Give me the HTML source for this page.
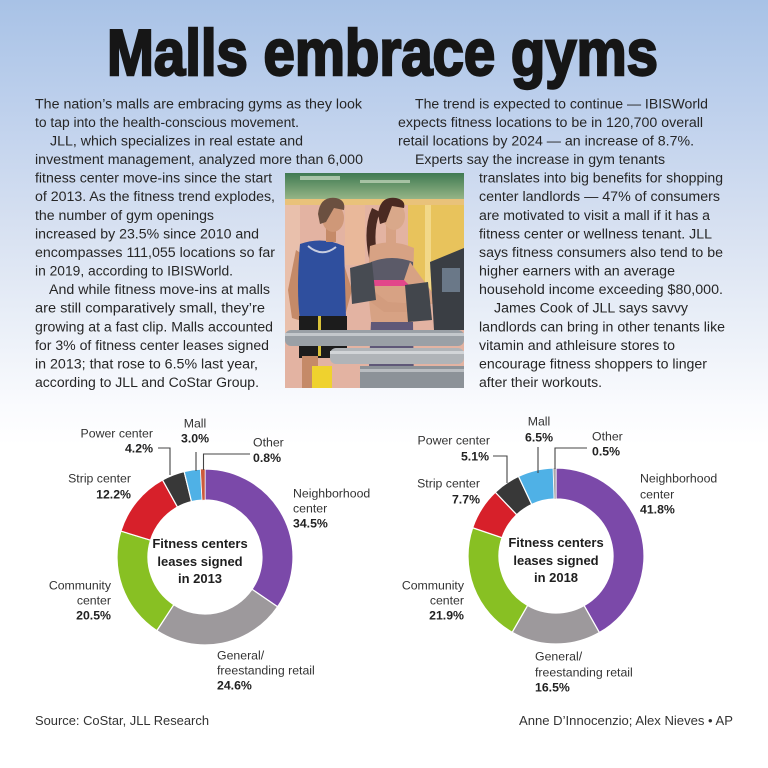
<!DOCTYPE html>
<html><head><meta charset="utf-8"><style>
html,body{margin:0;padding:0;background:#fff;}
svg{display:block;}
text{font-family:"Liberation Sans",Arial,sans-serif;}
.b{font-size:14.2px;fill:#262626;}
.l{font-size:12.3px;fill:#333;}
.p{font-size:12.3px;fill:#222;font-weight:bold;}
.c{font-size:13px;fill:#1e1e1e;font-weight:bold;}
.f{font-size:13px;fill:#333;}
</style></head><body>
<svg width="768" height="768" viewBox="0 0 768 768" xmlns="http://www.w3.org/2000/svg">
<defs>
<linearGradient id="bg" x1="0" y1="0" x2="0" y2="1">
<stop offset="0" stop-color="#a8c2e6"/>
<stop offset="0.13" stop-color="#bccfec"/>
<stop offset="0.29" stop-color="#d6e0f1"/>
<stop offset="0.43" stop-color="#ebf0f8"/>
<stop offset="0.53" stop-color="#fafbfe"/>
<stop offset="0.58" stop-color="#ffffff"/>
</linearGradient>
<linearGradient id="ceil" x1="0" y1="0" x2="0" y2="1">
<stop offset="0" stop-color="#3f7a52"/>
<stop offset="1" stop-color="#9cb98a"/>
</linearGradient>
<clipPath id="ph"><rect x="285" y="173" width="179" height="215"/></clipPath>
</defs>
<rect x="0" y="0" width="768" height="768" fill="url(#bg)"/>

<!-- Title -->
<text x="107" y="75" font-size="65" font-weight="bold" fill="#161616" stroke="#161616" stroke-width="2.4" textLength="551" lengthAdjust="spacingAndGlyphs">Malls embrace gyms</text>

<!-- Left column -->
<text class="b" x="35" y="108.3" textLength="327" lengthAdjust="spacingAndGlyphs">The nation’s malls are embracing gyms as they look</text>
<text class="b" x="35" y="126.9" textLength="264" lengthAdjust="spacingAndGlyphs">to tap into the health-conscious movement.</text>
<text class="b" x="50" y="145.5" textLength="253" lengthAdjust="spacingAndGlyphs">JLL, which specializes in real estate and</text>
<text class="b" x="35" y="164.0" textLength="328" lengthAdjust="spacingAndGlyphs">investment management, analyzed more than 6,000</text>
<text class="b" x="35" y="182.6" textLength="237" lengthAdjust="spacingAndGlyphs">fitness center move-ins since the start</text>
<text class="b" x="35" y="201.2" textLength="240" lengthAdjust="spacingAndGlyphs">of 2013. As the fitness trend explodes,</text>
<text class="b" x="35" y="219.8" textLength="179" lengthAdjust="spacingAndGlyphs">the number of gym openings</text>
<text class="b" x="35" y="238.4" textLength="224" lengthAdjust="spacingAndGlyphs">increased by 23.5% since 2010 and</text>
<text class="b" x="35" y="256.9" textLength="240" lengthAdjust="spacingAndGlyphs">encompasses 111,055 locations so far</text>
<text class="b" x="35" y="275.5" textLength="198" lengthAdjust="spacingAndGlyphs">in 2019, according to IBISWorld.</text>
<text class="b" x="49" y="294.1" textLength="221" lengthAdjust="spacingAndGlyphs">And while fitness move-ins at malls</text>
<text class="b" x="35" y="312.7" textLength="230" lengthAdjust="spacingAndGlyphs">are still comparatively small, they’re</text>
<text class="b" x="35" y="331.3" textLength="238" lengthAdjust="spacingAndGlyphs">growing at a fast clip. Malls accounted</text>
<text class="b" x="35" y="349.8" textLength="234" lengthAdjust="spacingAndGlyphs">for 3% of fitness center leases signed</text>
<text class="b" x="35" y="368.4" textLength="223" lengthAdjust="spacingAndGlyphs">in 2013; that rose to 6.5% last year,</text>
<text class="b" x="35" y="387.0" textLength="224" lengthAdjust="spacingAndGlyphs">according to JLL and CoStar Group.</text>

<!-- Right column -->
<text class="b" x="415" y="108.3" textLength="293" lengthAdjust="spacingAndGlyphs">The trend is expected to continue — IBISWorld</text>
<text class="b" x="398" y="126.9" textLength="305" lengthAdjust="spacingAndGlyphs">expects fitness locations to be in 120,700 overall</text>
<text class="b" x="398" y="145.5" textLength="296" lengthAdjust="spacingAndGlyphs">retail locations by 2024 — an increase of 8.7%.</text>
<text class="b" x="415" y="164.0" textLength="250" lengthAdjust="spacingAndGlyphs">Experts say the increase in gym tenants</text>
<text class="b" x="479" y="182.6" textLength="244" lengthAdjust="spacingAndGlyphs">translates into big benefits for shopping</text>
<text class="b" x="479" y="201.2" textLength="241" lengthAdjust="spacingAndGlyphs">center landlords — 47% of consumers</text>
<text class="b" x="479" y="219.8" textLength="231" lengthAdjust="spacingAndGlyphs">are motivated to visit a mall if it has a</text>
<text class="b" x="479" y="238.4" textLength="233" lengthAdjust="spacingAndGlyphs">fitness center or wellness tenant. JLL</text>
<text class="b" x="479" y="256.9" textLength="244" lengthAdjust="spacingAndGlyphs">says fitness consumers also tend to be</text>
<text class="b" x="479" y="275.5" textLength="196" lengthAdjust="spacingAndGlyphs">higher earners with an average</text>
<text class="b" x="479" y="294.1" textLength="244" lengthAdjust="spacingAndGlyphs">household income exceeding $80,000.</text>
<text class="b" x="494" y="312.7" textLength="194" lengthAdjust="spacingAndGlyphs">James Cook of JLL says savvy</text>
<text class="b" x="479" y="331.3" textLength="246" lengthAdjust="spacingAndGlyphs">landlords can bring in other tenants like</text>
<text class="b" x="479" y="349.8" textLength="196" lengthAdjust="spacingAndGlyphs">vitamin and athleisure stores to</text>
<text class="b" x="479" y="368.4" textLength="228" lengthAdjust="spacingAndGlyphs">encourage fitness shoppers to linger</text>
<text class="b" x="479" y="387.0" textLength="123" lengthAdjust="spacingAndGlyphs">after their workouts.</text>

<!-- Photo -->
<g clip-path="url(#ph)">
<rect x="285" y="173" width="179" height="215" fill="#e3b3a2"/>
<rect x="285" y="173" width="179" height="28" fill="url(#ceil)"/>
<rect x="300" y="176" width="40" height="4" fill="#cfe0c8" opacity="0.7"/>
<rect x="360" y="180" width="50" height="3" fill="#d8e6cf" opacity="0.6"/>
<rect x="285" y="199" width="179" height="6" fill="#e9c27a"/>
<rect x="408" y="205" width="56" height="90" fill="#e8c35c"/>
<rect x="425" y="205" width="6" height="90" fill="#f2d888"/>
<rect x="345" y="205" width="20" height="60" fill="#e9b89a"/>
<rect x="285" y="205" width="15" height="130" fill="#e9c0ac"/>
<!-- man -->
<path d="M296,250 L288,290 L292,318 L305,322 L304,292 L308,258 Z" fill="#c58a68"/>
<path d="M340,252 L352,290 L346,312 L336,312 L342,290 L334,262 Z" fill="#c58a68"/>
<path d="M300,244 Q322,236 344,246 L346,318 L300,320 Q296,290 300,244 Z" fill="#2f4f9e"/>
<path d="M308,246 Q322,258 336,247" stroke="#c8cde0" stroke-width="2" fill="none"/>
<rect x="326" y="226" width="10" height="16" fill="#c58a68"/>
<ellipse cx="333" cy="218" rx="11" ry="14" fill="#cf9878"/>
<path d="M318,214 Q320,196 336,198 Q346,200 344,210 L334,208 L326,222 L320,224 Z" fill="#6b5040"/>
<rect x="299" y="316" width="48" height="42" fill="#1c1c1c"/>
<rect x="318" y="316" width="3" height="40" fill="#d9c23a"/>
<rect x="302" y="356" width="16" height="32" fill="#c58a68"/>
<rect x="312" y="366" width="20" height="22" fill="#efd22e"/>
<!-- woman -->
<path d="M372,208 Q362,230 370,262 L378,258 Q372,232 380,212 Z" fill="#4a2a22"/>
<path d="M370,246 Q392,238 414,248 L412,325 L372,325 Q366,290 370,246 Z" fill="#d7a284"/>
<path d="M371,262 Q392,254 413,262 L413,282 L371,282 Z" fill="#5b5a68"/>
<rect x="371" y="280" width="42" height="6" fill="#e2478a"/>
<path d="M410,262 L432,292 L446,296 L446,304 L428,304 L404,280 Z" fill="#d7a284"/>
<path d="M372,290 L388,302 L420,304 L418,312 L384,312 L368,300 Z" fill="#d29c7e"/>
<rect x="386" y="226" width="10" height="18" fill="#d7a284"/>
<ellipse cx="394" cy="216" rx="11" ry="14" fill="#d9a88a"/>
<path d="M378,214 Q380,196 396,198 Q406,200 404,208 L392,206 L386,222 L380,224 Z" fill="#4a2a22"/>
<path d="M371,322 L413,322 L414,388 L368,388 Z" fill="#5f5878"/>
<!-- treadmill -->
<path d="M430,262 L464,248 L464,330 L434,330 Z" fill="#3a3e44"/>
<rect x="442" y="268" width="18" height="24" fill="#6a7888"/>
<path d="M350,268 L372,262 L376,300 L352,304 Z" fill="#474b52"/>
<path d="M405,285 L428,282 L432,320 L408,322 Z" fill="#42464c"/>
<rect x="285" y="330" width="179" height="16" rx="6" fill="#9aa0a6"/>
<rect x="285" y="333" width="179" height="3" fill="#c4c8cc"/>
<rect x="330" y="348" width="134" height="16" rx="6" fill="#b0b4b8"/>
<rect x="330" y="351" width="134" height="3" fill="#d2d5d8"/>
<rect x="360" y="366" width="104" height="22" fill="#8c9298"/>
<rect x="360" y="369" width="104" height="3" fill="#b9bdc1"/>
</g>

<!-- Donut 1 (2013) -->
<g stroke="#ffffff" stroke-width="1.2" stroke-linejoin="round">
<path d="M205,469 A88,88 0 0 1 277.56,606.79 L252,589.25 A57,57 0 0 0 205,500 Z" fill="#7b49a9"/>
<path d="M277.56,606.79 A88,88 0 0 1 156.82,630.64 L173.79,604.7 A57,57 0 0 0 252,589.25 Z" fill="#9d999c"/>
<path d="M156.82,630.64 A88,88 0 0 1 120.91,531.08 L150.53,540.21 A57,57 0 0 0 173.79,604.7 Z" fill="#88c023"/>
<path d="M120.91,531.08 A88,88 0 0 1 162.52,479.93 L177.49,507.08 A57,57 0 0 0 150.53,540.21 Z" fill="#d7202a"/>
<path d="M162.52,479.93 A88,88 0 0 1 184.14,471.51 L191.49,501.62 A57,57 0 0 0 177.49,507.08 Z" fill="#383838"/>
<path d="M184.14,471.51 A88,88 0 0 1 200.56,469.11 L202.13,500.07 A57,57 0 0 0 191.49,501.62 Z" fill="#4fb1e6"/>
<path d="M200.56,469.11 A88,88 0 0 1 205,469 L205,500 A57,57 0 0 0 202.13,500.07 Z" fill="#cc5a3c" stroke-width="0.5"/>
</g>
<g stroke="#444" stroke-width="1.1" fill="none">
<polyline points="158,448 170,448 170,475"/>
<polyline points="196,452 196,471"/>
<polyline points="203.5,470 203.5,454 250,454"/>
</g>
<text class="l" x="195" y="427.5" text-anchor="middle">Mall</text>
<text class="p" x="195" y="442.5" text-anchor="middle">3.0%</text>
<text class="l" x="153" y="437.5" text-anchor="end">Power center</text>
<text class="p" x="153" y="452.5" text-anchor="end">4.2%</text>
<text class="l" x="253" y="446.5">Other</text>
<text class="p" x="253" y="462">0.8%</text>
<text class="l" x="131" y="482.5" text-anchor="end">Strip center</text>
<text class="p" x="131" y="498.5" text-anchor="end">12.2%</text>
<text class="l" x="293" y="497.5">Neighborhood</text>
<text class="l" x="293" y="512.5">center</text>
<text class="p" x="293" y="527.5">34.5%</text>
<text class="l" x="111" y="589.5" text-anchor="end">Community</text>
<text class="l" x="111" y="604.5" text-anchor="end">center</text>
<text class="p" x="111" y="619.5" text-anchor="end">20.5%</text>
<text class="l" x="217" y="659.5">General/</text>
<text class="l" x="217" y="674.5">freestanding retail</text>
<text class="p" x="217" y="689.5">24.6%</text>
<text class="c" x="200" y="548" text-anchor="middle">Fitness centers</text>
<text class="c" x="200" y="566" text-anchor="middle">leases signed</text>
<text class="c" x="200" y="583" text-anchor="middle">in 2013</text>

<!-- Donut 2 (2018) -->
<g stroke="#ffffff" stroke-width="1.2" stroke-linejoin="round">
<path d="M556,468 A88,88 0 0 1 599.36,632.58 L584.08,605.6 A57,57 0 0 0 556,499 Z" fill="#7b49a9"/>
<path d="M599.36,632.58 A88,88 0 0 1 512.16,632.3 L527.6,605.42 A57,57 0 0 0 584.08,605.6 Z" fill="#9d999c"/>
<path d="M512.16,632.3 A88,88 0 0 1 472.66,527.75 L502.02,537.7 A57,57 0 0 0 527.6,605.42 Z" fill="#88c023"/>
<path d="M472.66,527.75 A88,88 0 0 1 495.36,492.23 L516.72,514.69 A57,57 0 0 0 502.02,537.7 Z" fill="#d7202a"/>
<path d="M495.36,492.23 A88,88 0 0 1 518.53,476.38 L531.73,504.43 A57,57 0 0 0 516.72,514.69 Z" fill="#383838"/>
<path d="M518.53,476.38 A88,88 0 0 1 553.24,468.04 L554.21,499.03 A57,57 0 0 0 531.73,504.43 Z" fill="#4fb1e6"/>
<path d="M553.24,468.04 A88,88 0 0 1 556,468 L556,499 A57,57 0 0 0 554.21,499.03 Z" fill="#a9a6a8" stroke-width="0.5"/>
</g>
<g stroke="#444" stroke-width="1.1" fill="none">
<polyline points="493,456 507,456 507,483"/>
<polyline points="538,447 538,473"/>
<polyline points="555,469 555,448 587,448"/>
</g>
<text class="l" x="539" y="425.5" text-anchor="middle">Mall</text>
<text class="p" x="539" y="441.5" text-anchor="middle">6.5%</text>
<text class="l" x="490" y="444.5" text-anchor="end">Power center</text>
<text class="p" x="489" y="460.5" text-anchor="end">5.1%</text>
<text class="l" x="592" y="440.5">Other</text>
<text class="p" x="592" y="455.5">0.5%</text>
<text class="l" x="480" y="487.5" text-anchor="end">Strip center</text>
<text class="p" x="480" y="503.5" text-anchor="end">7.7%</text>
<text class="l" x="640" y="482.5">Neighborhood</text>
<text class="l" x="640" y="498.5">center</text>
<text class="p" x="640" y="513.5">41.8%</text>
<text class="l" x="464" y="589.5" text-anchor="end">Community</text>
<text class="l" x="464" y="604.5" text-anchor="end">center</text>
<text class="p" x="464" y="619.5" text-anchor="end">21.9%</text>
<text class="l" x="535" y="660.5">General/</text>
<text class="l" x="535" y="676.5">freestanding retail</text>
<text class="p" x="535" y="691.5">16.5%</text>
<text class="c" x="556" y="547" text-anchor="middle">Fitness centers</text>
<text class="c" x="556" y="565" text-anchor="middle">leases signed</text>
<text class="c" x="556" y="582" text-anchor="middle">in 2018</text>

<!-- Footer -->
<text class="f" x="35" y="725" textLength="174" lengthAdjust="spacingAndGlyphs">Source: CoStar, JLL Research</text>
<text class="f" x="519" y="725" textLength="214" lengthAdjust="spacingAndGlyphs">Anne D’Innocenzio; Alex Nieves • AP</text>
</svg>
</body></html>
